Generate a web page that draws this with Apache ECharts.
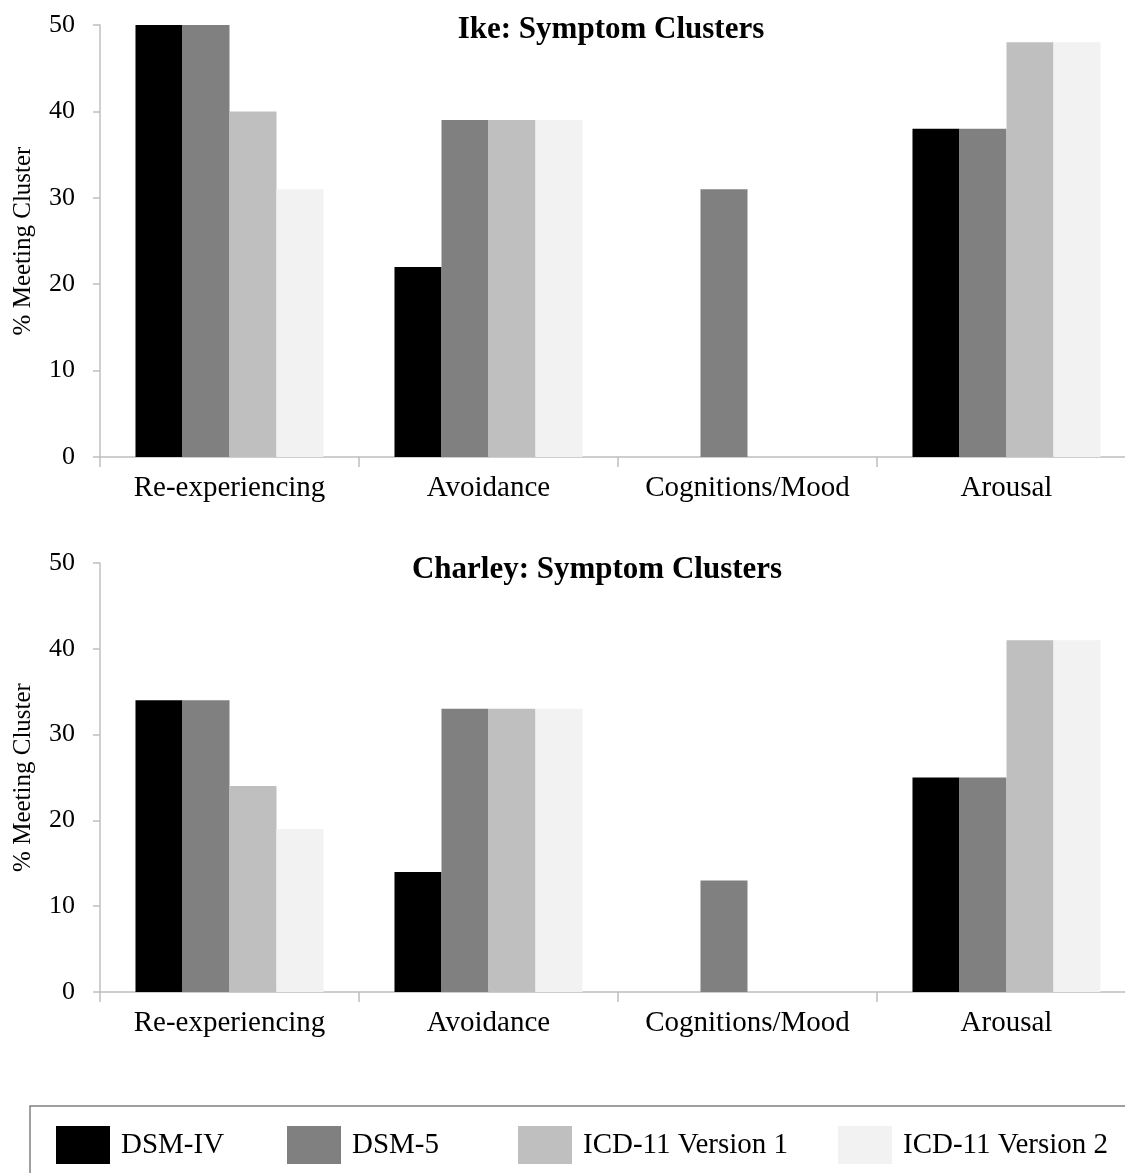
<!DOCTYPE html>
<html><head><meta charset="utf-8">
<script src="https://cdn.jsdelivr.net/npm/echarts@6/dist/echarts.min.js"></script>
<style>html,body{margin:0;padding:0;background:#fff;overflow:hidden}#c{width:1140px;height:1173px}</style>
</head><body><div id="c"></div>
<script>
const categories = ['Re-experiencing', 'Avoidance', 'Cognitions/Mood', 'Arousal'];
const seriesNames = ['DSM-IV', 'DSM-5', 'ICD-11 Version 1', 'ICD-11 Version 2'];
const colors = ['#000000', '#808080', '#bfbfbf', '#f2f2f2'];
const ikeDSM4 = [50, 22, 0, 38];
const ikeDSM5 = [50, 39, 31, 38];
const ikeICD1 = [40, 39, 0, 48];
const ikeICD2 = [31, 39, 0, 48];
const charleyDSM4 = [34, 14, 0, 25];
const charleyDSM5 = [34, 33, 13, 25];
const charleyICD1 = [24, 33, 0, 41];
const charleyICD2 = [19, 33, 0, 41];
const yTicks = [0, 10, 20, 30, 40, 50];

const FONT = '"Liberation Serif", "Times New Roman", serif';
const axisGray = '#bfbfbf';
const chart = echarts.init(document.getElementById('c'));

function xAx(i){
  return {type:'category', gridIndex:i, data:categories,
    axisLine:{lineStyle:{color:axisGray, width:1.5}},
    axisTick:{show:true, interval:0, length:10, lineStyle:{color:axisGray, width:1.5}},
    axisLabel:{color:'#000', fontFamily:FONT, fontSize:29, margin:17, interval:0, hideOverlap:false}};
}
function yAx(i){
  return {type:'value', gridIndex:i, min:yTicks[0], max:yTicks[yTicks.length-1], interval:10,
    name:'% Meeting Cluster', nameLocation:'middle', nameGap:64, nameRotate:90,
    nameTextStyle:{color:'#000', fontFamily:FONT, fontSize:25},
    axisLine:{show:true, lineStyle:{color:axisGray, width:1.5}},
    axisTick:{show:true, length:7, lineStyle:{color:axisGray, width:1.5}},
    splitLine:{show:false},
    axisLabel:{color:'#000', fontFamily:FONT, fontSize:26, margin:25}};
}
const ikeData = [ikeDSM4, ikeDSM5, ikeICD1, ikeICD2];
const charleyData = [charleyDSM4, charleyDSM5, charleyICD1, charleyICD2];
const series = [];
[ikeData, charleyData].forEach((set, g) => {
  set.forEach((vals, k) => {
    series.push({type:'bar', name:seriesNames[k], xAxisIndex:g, yAxisIndex:g, data:vals,
      barGap:'0%', barCategoryGap:'27.4%', itemStyle:{color:colors[k]}, silent:true});
  });
});

const legendPos = [56, 287, 518, 838];
chart.setOption({
  animation:false,
  title:[
    {text:'Ike: Symptom Clusters', left:606, top:9, textAlign:'center',
     textStyle:{fontFamily:FONT, fontSize:31, fontWeight:'bold', color:'#000'}},
    {text:'Charley: Symptom Clusters', left:592, top:549, textAlign:'center',
     textStyle:{fontFamily:FONT, fontSize:31, fontWeight:'bold', color:'#000'}}
  ],
  grid:[
    {left:100, top:25, width:1036, height:432},
    {left:100, top:563, width:1036, height:429}
  ],
  xAxis:[xAx(0), xAx(1)],
  yAxis:[yAx(0), yAx(1)],
  legend: seriesNames.map((n, k) => ({data:[n], left:legendPos[k], top:1126, itemWidth:54, itemHeight:38,
    icon:'rect', selectedMode:false, itemGap:0, padding:0,
    textStyle:{fontFamily:FONT, fontSize:29, color:'#000', padding:[0,0,0,6]}})),
  graphic:[{type:'rect', shape:{x:30, y:1106, width:1130, height:90},
    style:{fill:'none', stroke:'#808080', lineWidth:1.5}}],
  series
});
</script></body></html>
